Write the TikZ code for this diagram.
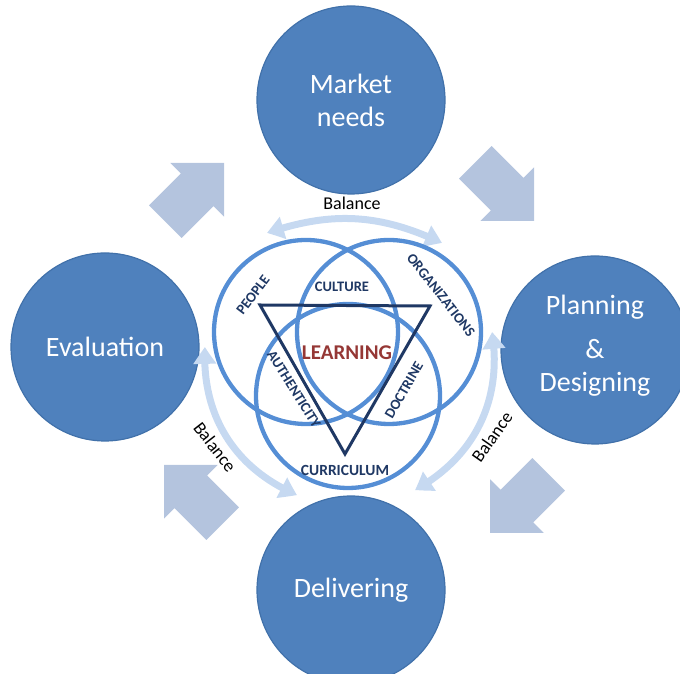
\documentclass[tikz,border=0pt]{standalone}
\usepackage{fontspec}
\setmainfont{Carlito}
\usetikzlibrary{arrows.meta, bending, positioning}
\definecolor{stageblue}{RGB}{79,129,189}
\definecolor{stageedge}{RGB}{65,113,170}
\definecolor{ringblue}{RGB}{85,142,213}
\definecolor{navy}{RGB}{31,56,100}
\definecolor{learnred}{RGB}{149,55,53}
\definecolor{balblue}{RGB}{198,217,241}
\definecolor{flowgrey}{RGB}{180,196,222}

\begin{document}
\begin{tikzpicture}[x=1pt, y=1pt,
  stage/.style={circle, fill=stageblue, draw=stageedge, line width=1.2pt,
    minimum size=188pt, inner sep=0pt, text=white, align=center,
    font=\fontsize{28}{33}\selectfont},
  ring/.style={circle, draw=ringblue, line width=4.3pt, minimum size=184pt, inner sep=0pt},
  tag/.style={text=navy, font=\bfseries\fontsize{14.5}{16}\selectfont, inner sep=0pt},
  balance/.style={balblue, line width=7pt,
    {Triangle[width=22pt,length=17pt,bend]}-{Triangle[width=22pt,length=17pt,bend]}},
  baltext/.style={font=\fontsize{18}{20}\selectfont, inner sep=0pt},
  flow/.pic={\fill[flowgrey] (0,0) -- (-38,38) -- (-38,23) -- (-83,23)
    -- (-83,-23) -- (-38,-23) -- (-38,-38) -- cycle;}]
  \clip (0,0) rectangle (680,674);

  % the four stages
  \node[stage] (market) at (351,574) {Market\\needs};
  \node[stage] (evaluation) at (105,327) {Evaluation};
  \node[stage] (planning) at (595,324) {};
  \node[text=white, align=center, font=\fontsize{28}{33}\selectfont]
    (planningtext) at ([yshift=4pt]planning.center) {Planning\\[11pt]\&\\Designing};
  \node[stage] (delivering) at (351,84) {Delivering};

  % cycle arrows
  \pic[rotate=45] at (224,511) {flow};
  \pic[rotate=-45] at (534,453) {flow};
  \pic[rotate=-135] at (490,141) {flow};
  \pic[rotate=135] at (164,209) {flow};

  % balance arrows
  \coordinate (topA) at (267,441);
  \coordinate (topB) at (442,431);
  \coordinate (leftA) at (205,327);
  \coordinate (leftB) at (297,179);
  \coordinate (rightA) at (492,342);
  \coordinate (rightB) at (415,184);
  \draw[balance] (topA) to[bend left=22] (topB);
  \draw[balance] (leftA) to[bend right=35] (leftB);
  \draw[balance] (rightA) to[bend left=35] (rightB);
  \node[baltext] (baltop) at (352,471) {Balance};
  \node[baltext, rotate=-52] (balleft) at (215,227) {Balance};
  \node[baltext, rotate=55] (balright) at (492,237) {Balance};

  % venn rings
  \node[ring] (people) at (306,342) {};
  \node[ring] (organizations) at (389,342) {};
  \node[ring] (curriculum) at (348,278) {};

  \coordinate (tl) at (260,369);
  \coordinate (tr) at (430,368);
  \coordinate (tb) at (345,220);
  \draw[navy, line width=3pt] (tl) -- (tr) -- (tb) -- cycle;

  \node[tag] (culture) at (342,387) {CULTURE};
  \node[tag, rotate=53] (peopletag) at (253,379) {PEOPLE};
  \node[tag, rotate=-52] (orgtag) at (441,379) {ORGANIZATIONS};
  \node[tag, rotate=-58] (authtag) at (294,285) {AUTHENTICITY};
  \node[tag, rotate=60] (doctag) at (404,284) {DOCTRINE};
  \node[tag, font=\bfseries\fontsize{15.5}{17}\selectfont] (currtag) at (345,204) {CURRICULUM};
  \node[text=learnred, font=\bfseries\fontsize{21}{24}\selectfont] (learning) at (347,321) {LEARNING};
\end{tikzpicture}
\end{document}
